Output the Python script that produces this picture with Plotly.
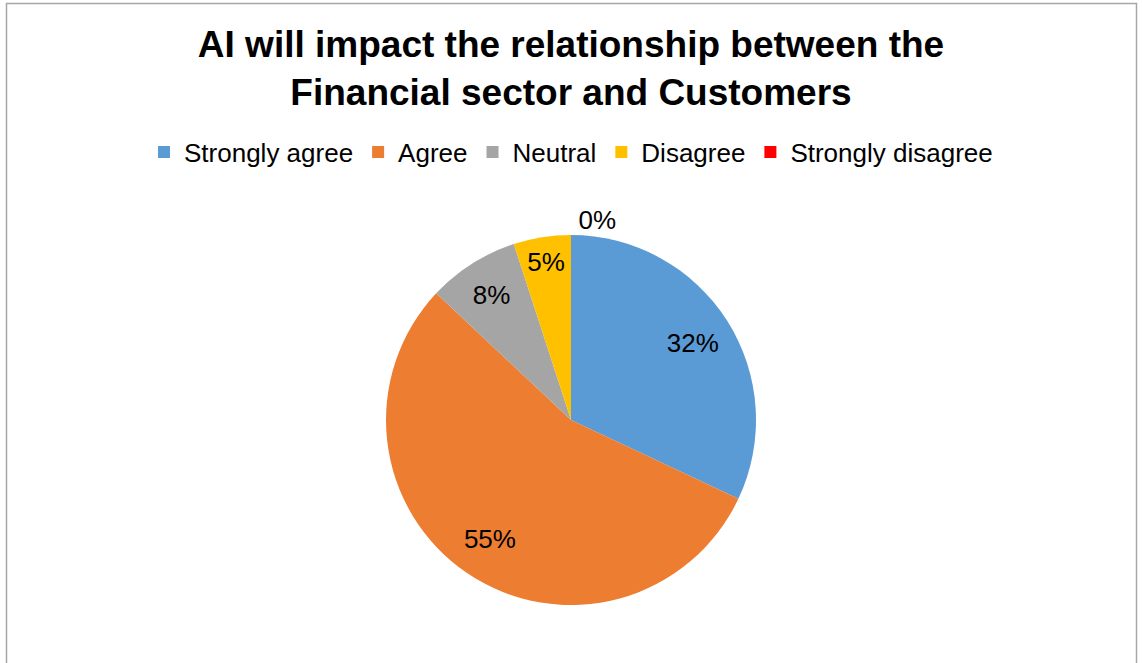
import plotly.graph_objects as go

# Survey responses
categories = ["Strongly agree", "Agree", "Neutral", "Disagree", "Strongly disagree"]
shares = [32, 55, 8, 5, 0]
colors = ["#5B9BD5", "#ED7D31", "#A5A5A5", "#FFC000", "#FF0000"]
label_positions = ["inside", "inside", "inside", "inside", "outside"]

W, H = 1142, 663
font_family = "Liberation Sans, Arial, sans-serif"
pie_domain = dict(x=[386 / W, 756 / W], y=[(H - 605) / H, (H - 235) / H])

fig = go.Figure()

# Solid pie
fig.add_trace(go.Pie(
    labels=categories,
    values=shares,
    marker=dict(colors=colors, line=dict(width=0)),
    sort=False,
    direction="clockwise",
    rotation=0,
    textinfo="none",
    hoverinfo="label+percent",
    domain=pie_domain,
))

# Transparent ring on top that carries the percentage labels out toward the rim
fig.add_trace(go.Pie(
    labels=categories,
    values=shares,
    hole=0.56,
    marker=dict(colors=["rgba(0,0,0,0)"] * len(categories), line=dict(width=0)),
    sort=False,
    direction="clockwise",
    rotation=0,
    texttemplate="%{value}%",
    textposition=label_positions,
    insidetextorientation="horizontal",
    textfont=dict(family=font_family, size=26, color="black"),
    hoverinfo="skip",
    showlegend=False,
    domain=pie_domain,
))

# Outer chart frame
fig.add_shape(
    type="rect", xref="paper", yref="paper",
    x0=6.5 / W, x1=1136.5 / W, y0=-0.05, y1=(H - 3.5) / H,
    line=dict(color="#A6A6A6", width=1.5), fillcolor="rgba(0,0,0,0)", layer="below",
)

fig.update_layout(
    width=W,
    height=H,
    margin=dict(l=0, r=0, t=0, b=0),
    paper_bgcolor="white",
    plot_bgcolor="white",
    font=dict(family=font_family, color="black"),
    title=dict(
        text="<b>AI will impact the relationship between the<br>Financial sector and Customers</b>",
        x=0.5, xanchor="center",
        y=1 - 57 / H, yanchor="top", yref="container",
        font=dict(size=37, color="black", family=font_family),
    ),
    legend=dict(
        orientation="h",
        x=0.5, xanchor="center",
        y=1 - 152 / H, yanchor="middle",
        font=dict(size=26, family=font_family, color="black"),
        traceorder="normal",
        itemclick=False,
    ),
    showlegend=True,
)

fig.write_html("out.html")
